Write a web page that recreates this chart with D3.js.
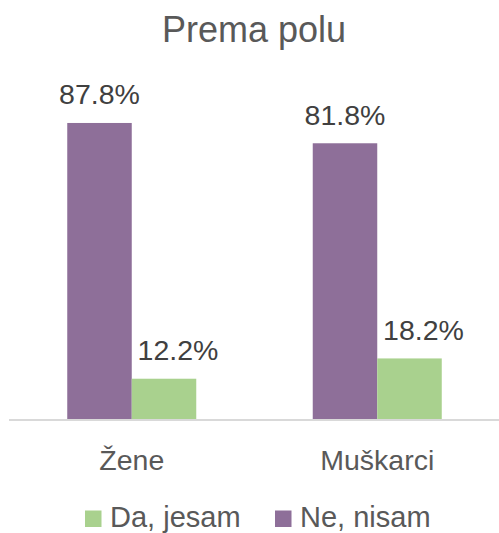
<!DOCTYPE html>
<html>
<head>
<meta charset="utf-8">
<script src="https://cdn.jsdelivr.net/npm/d3@7"></script>
<style>
body{margin:0;background:#fff;}
text{font-family:"Liberation Sans",Arial,sans-serif;}
</style>
</head>
<body>
<svg id="c" width="499" height="533"></svg>
<script>
const categories = ["Žene", "Muškarci"];
const seriesNames = ["Ne, nisam", "Da, jesam"];
const neNisam = [87.8, 81.8];
const daJesam = [12.2, 18.2];
const legendOrder = ["Da, jesam", "Ne, nisam"];
const colors = {"Ne, nisam": "#8E6F99", "Da, jesam": "#A9D18E"};
const title = "Prema polu";

const values = {"Ne, nisam": neNisam, "Da, jesam": daJesam};
const svg = d3.select("#c");
const W = 499, H = 533;
const left = 9, right = 500, baseline = 420;

const x0 = d3.scaleBand().domain(categories).range([left, right]).paddingInner(0).paddingOuter(0);
const x1 = d3.scaleBand().domain(seriesNames).range([0, x0.bandwidth()]).paddingInner(0).paddingOuter(0.903);
const y = d3.scaleLinear().domain([0, 100]).range([baseline, baseline - 338.3]);

svg.append("text").attr("x", 254).attr("y", 42).attr("text-anchor", "middle")
  .attr("font-size", 36).attr("fill", "#595959").text(title);

const g = svg.append("g");
categories.forEach((c, i) => {
  seriesNames.forEach((s, j) => {
    const v = values[s][i];
    const bx = x0(c) + x1(s);
    g.append("rect").attr("x", bx).attr("y", y(v)).attr("width", x1.bandwidth())
      .attr("height", baseline - y(v)).attr("fill", colors[s]);
    g.append("text").attr("x", bx + x1.bandwidth() / 2 + (j === 1 ? 14 : 0))
      .attr("y", y(v) - 18.5).attr("text-anchor", "middle")
      .attr("font-size", 28.5).attr("fill", "#404040").text(v.toFixed(1) + "%");
  });
});

// axis
const xAxis = d3.axisBottom(x0).tickSize(0).tickPadding(0);
const ax = svg.append("g").attr("transform", `translate(0,${baseline})`).call(xAxis);
ax.select(".domain").attr("stroke", "#D9D9D9").attr("stroke-width", 2).attr("d", `M${left},0H${W}`);
ax.selectAll(".tick text").attr("font-size", 28.5).attr("fill", "#595959")
  .attr("font-family", "'Liberation Sans', Arial, sans-serif").attr("dy", 0).attr("y", 50);

// legend
const leg = svg.append("g");
const legX = [85, 275];
legendOrder.forEach((s, i) => {
  leg.append("rect").attr("x", legX[i]).attr("y", 510.5).attr("width", 16.5).attr("height", 16.5).attr("fill", colors[s]);
  leg.append("text").attr("x", legX[i] + 25).attr("y", 527).attr("font-size", 29).attr("fill", "#595959").text(s);
});
</script>
</body>
</html>
